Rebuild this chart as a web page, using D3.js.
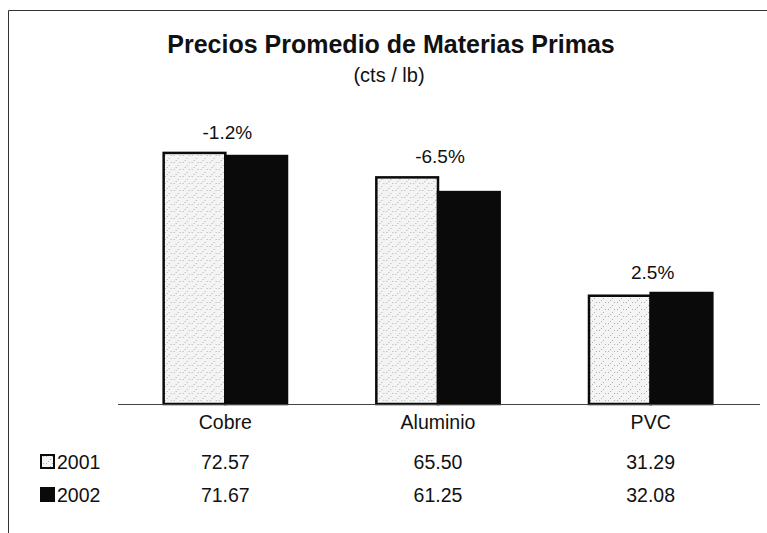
<!DOCTYPE html>
<html>
<head>
<meta charset="utf-8">
<script src="https://cdn.jsdelivr.net/npm/d3@7"></script>
<style>
  body { margin: 0; background: #fff; }
  svg { display: block; font-family: "Liberation Sans", Arial, sans-serif; }
</style>
</head>
<body>
<script>
var categories = ["Cobre", "Aluminio", "PVC"];
var years = ["2001", "2002"];
var values2001 = [72.57, 65.50, 31.29];
var values2002 = [71.67, 61.25, 32.08];
var changeLabels = ["-1.2%", "-6.5%", "2.5%"];

var w = 767;
var h = 533;
var baseY = 404;

var svg = d3.select("body")
            .append("svg")
            .attr("width", w)
            .attr("height", h);

// stipple for the 2001 bars
var pat = svg.append("defs").append("pattern")
             .attr("id", "stip")
             .attr("patternUnits", "userSpaceOnUse")
             .attr("width", 9)
             .attr("height", 7);
pat.append("rect").attr("width", 9).attr("height", 7).attr("fill", "#f4f4f4");
[[1, 1], [5, 4], [7, 1], [3, 6]].forEach(function(p){
  pat.append("rect").attr("x", p[0]).attr("y", p[1])
     .attr("width", 1).attr("height", 1).attr("fill", "#b0b0b0");
});

// frame (top and left edge)
svg.append("path")
   .attr("d", "M8.5,533V10.5H767")
   .attr("fill", "none")
   .attr("stroke", "#333")
   .attr("stroke-width", 1);

var xScale = d3.scaleBand()
               .domain(categories)
               .range([119, 757])
               .paddingInner(0.42)
               .paddingOuter(0.21);

var xSub = d3.scaleBand()
             .domain(years)
             .range([0, xScale.bandwidth()]);

var yScale = d3.scaleLinear()
               .domain([0, 80])
               .range([baseY, baseY - 80 * 3.46]);

var rows = categories.map(function(c, i){
  return {cat: c, vals: [values2001[i], values2002[i]], change: changeLabels[i]};
});

// title
svg.append("text")
   .attr("x", 391).attr("y", 53)
   .attr("text-anchor", "middle")
   .attr("font-size", "25px")
   .attr("font-weight", "bold")
   .attr("fill", "#111")
   .text("Precios Promedio de Materias Primas");

svg.append("text")
   .attr("x", 389).attr("y", 82)
   .attr("text-anchor", "middle")
   .attr("font-size", "20px")
   .attr("fill", "#111")
   .text("(cts / lb)");

var groups = svg.selectAll("g.cat")
                .data(rows)
                .enter()
                .append("g")
                .attr("class", "cat")
                .attr("transform", function(d){
                  return "translate(" + xScale(d.cat) + ",0)";
                });

groups.selectAll("rect")
      .data(function(d){ return d.vals; })
      .enter()
      .append("rect")
      .attr("x", function(d, i){ return xSub(years[i]); })
      .attr("y", function(d){ return yScale(d); })
      .attr("width", xSub.bandwidth())
      .attr("height", function(d){ return baseY - yScale(d); })
      .attr("fill", function(d, i){ return i === 0 ? "url(#stip)" : "#0a0a0a"; })
      .attr("stroke", "#0a0a0a")
      .attr("stroke-width", 2.5);

groups.append("text")
      .attr("x", xScale.bandwidth() / 2 + 2)
      .attr("y", function(d){ return yScale(d3.max(d.vals)) - 14; })
      .attr("text-anchor", "middle")
      .attr("font-size", "19px")
      .attr("fill", "#111")
      .text(function(d){ return d.change; });

// category axis
var axis = svg.append("g")
              .attr("transform", "translate(0," + baseY + ")")
              .call(d3.axisBottom(xScale).tickSize(0).tickPadding(11));
axis.select(".domain")
    .attr("d", "M118,0.5H760")
    .attr("stroke", "#444")
    .attr("stroke-width", 1.2);
axis.selectAll("text")
    .attr("font-size", "19.5px")
    .attr("font-family", "Liberation Sans, Arial, sans-serif")
    .attr("fill", "#111");

// data table
var tableY = [469, 502];
years.forEach(function(yr, j){
  svg.append("rect")
     .attr("x", 41).attr("y", tableY[j] - 14)
     .attr("width", 13).attr("height", 13)
     .attr("fill", j === 0 ? "url(#stip)" : "#0a0a0a")
     .attr("stroke", "#0a0a0a")
     .attr("stroke-width", 2);
  svg.append("text")
     .attr("x", 57).attr("y", tableY[j])
     .attr("font-size", "19.5px")
     .attr("fill", "#111")
     .text(yr);
  svg.selectAll("text.v" + yr)
     .data(rows)
     .enter()
     .append("text")
     .attr("class", "v" + yr)
     .attr("x", function(d){ return xScale(d.cat) + xScale.bandwidth() / 2; })
     .attr("y", tableY[j])
     .attr("text-anchor", "middle")
     .attr("font-size", "19.5px")
     .attr("fill", "#111")
     .text(function(d){ return d.vals[j].toFixed(2); });
});
</script>
</body>
</html>
